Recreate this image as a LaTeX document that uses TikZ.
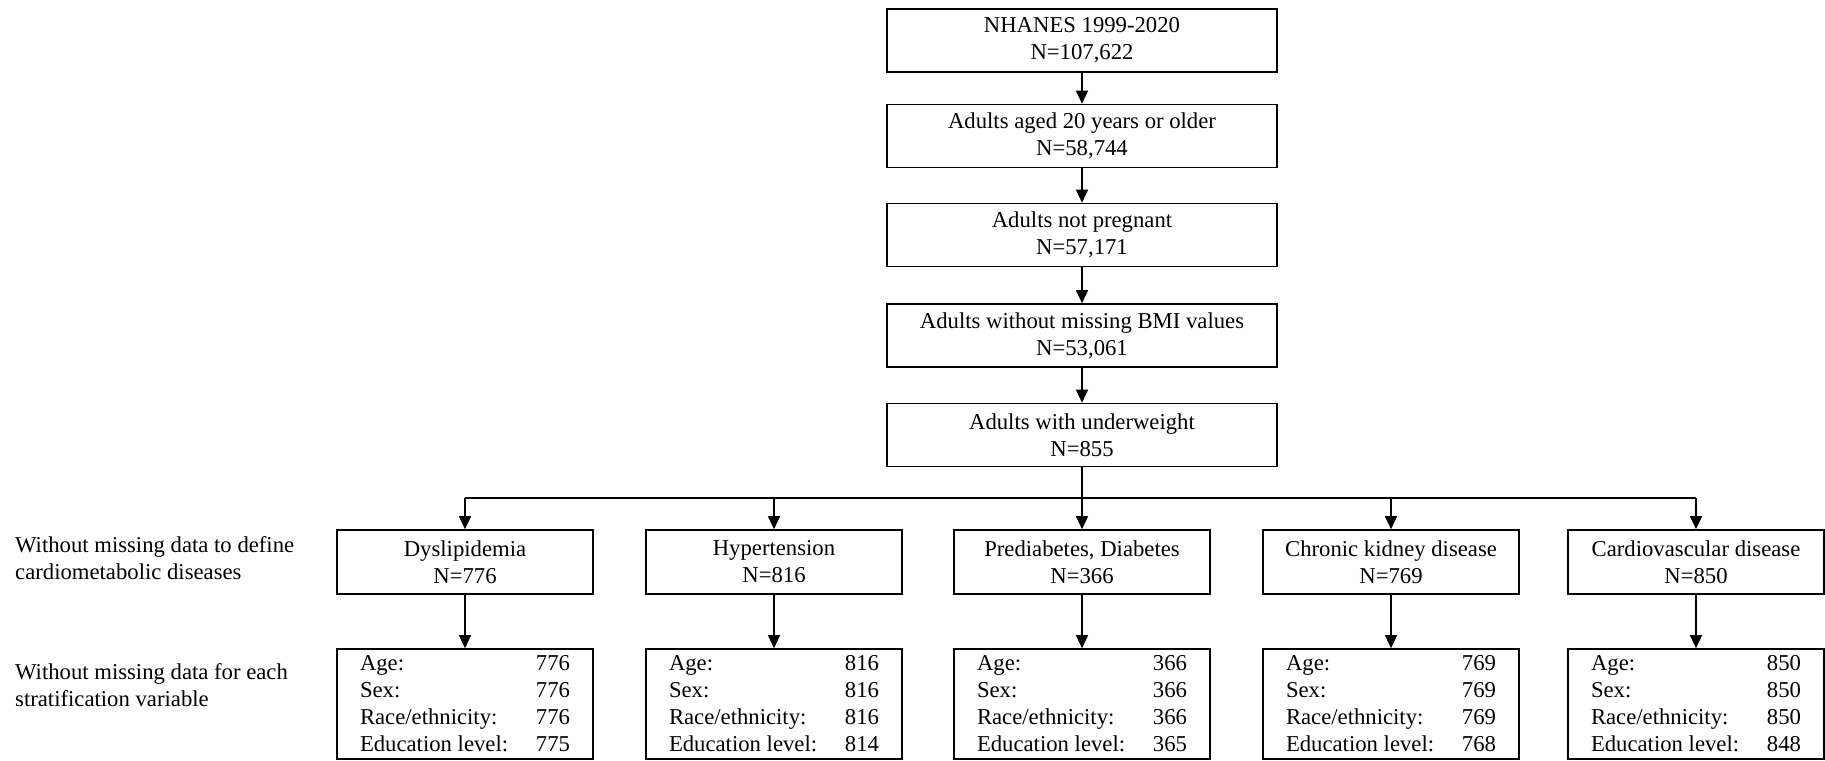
\documentclass[tikz,border=0pt]{standalone}
\usepackage{fontspec}
\setmainfont{Liberation Serif}
\usetikzlibrary{arrows.meta}
\begin{document}
\begin{tikzpicture}[x=1pt,y=-1pt,
  every node/.style={font=\fontsize{22.7}{27}\selectfont},
  topbox/.style={draw, line width=1.6pt, minimum width=390pt, minimum height=63pt, align=center, inner sep=0pt},
  dbox/.style={draw, line width=1.6pt, minimum width=256pt, minimum height=64pt, align=center, inner sep=0pt},
  sbox/.style={draw, line width=1.6pt, minimum width=256pt, minimum height=110pt, align=center, inner sep=0pt},
  conn/.style={line width=1.3pt},
  arr/.style={line width=1.3pt, -{Triangle[length=13pt,width=12pt]}},
  lbl/.style={anchor=west, align=left, inner sep=0pt}]
\useasboundingbox (0,0) rectangle (1825,760);
\newcommand{\srow}[2]{\makebox[210pt]{#1\hfill #2}}

\node[topbox] (b1) at (1082,40.5) {NHANES 1999-2020\\N=107,622};
\node[topbox] (b2) at (1082,136) {Adults aged 20 years or older\\N=58,744};
\node[topbox] (b3) at (1082,235) {Adults not pregnant\\N=57,171};
\node[topbox] (b4) at (1082,335.5) {Adults without missing BMI values\\N=53,061};
\node[topbox] (b5) at (1082,435) {Adults with underweight\\N=855};

\node[dbox] (d1) at (465,562) {Dyslipidemia\\N=776};
\node[dbox] (d2) at (774,562) {Hypertension\\N=816};
\node[dbox] (d3) at (1082,562) {Prediabetes, Diabetes\\N=366};
\node[dbox] (d4) at (1391,562) {Chronic kidney disease\\N=769};
\node[dbox] (d5) at (1696,562) {Cardiovascular disease\\N=850};

\node[sbox] (s1) at (465,704) {\srow{Age:}{776}\\\srow{Sex:}{776}\\\srow{Race/ethnicity:}{776}\\\srow{Education level:}{775}};
\node[sbox] (s2) at (774,704) {\srow{Age:}{816}\\\srow{Sex:}{816}\\\srow{Race/ethnicity:}{816}\\\srow{Education level:}{814}};
\node[sbox] (s3) at (1082,704) {\srow{Age:}{366}\\\srow{Sex:}{366}\\\srow{Race/ethnicity:}{366}\\\srow{Education level:}{365}};
\node[sbox] (s4) at (1391,704) {\srow{Age:}{769}\\\srow{Sex:}{769}\\\srow{Race/ethnicity:}{769}\\\srow{Education level:}{768}};
\node[sbox] (s5) at (1696,704) {\srow{Age:}{850}\\\srow{Sex:}{850}\\\srow{Race/ethnicity:}{850}\\\srow{Education level:}{848}};

\node[lbl] (l1) at (15,558.5) {Without missing data to define\\cardiometabolic diseases};
\node[lbl] (l2) at (15,685) {Without missing data for each\\stratification variable};

\draw[arr] (b1) -- (b2);
\draw[arr] (b2) -- (b3);
\draw[arr] (b3) -- (b4);
\draw[arr] (b4) -- (b5);
\draw[arr] (b5) -- (d3);
\coordinate (hl) at (0,498);
\draw[conn] (hl -| d1) -- (hl -| d5);
\draw[arr] (hl -| d1) -- (d1);
\draw[arr] (hl -| d2) -- (d2);
\draw[arr] (hl -| d4) -- (d4);
\draw[arr] (hl -| d5) -- (d5);
\draw[arr] (d1) -- (s1);
\draw[arr] (d2) -- (s2);
\draw[arr] (d3) -- (s3);
\draw[arr] (d4) -- (s4);
\draw[arr] (d5) -- (s5);
\end{tikzpicture}
\end{document}
